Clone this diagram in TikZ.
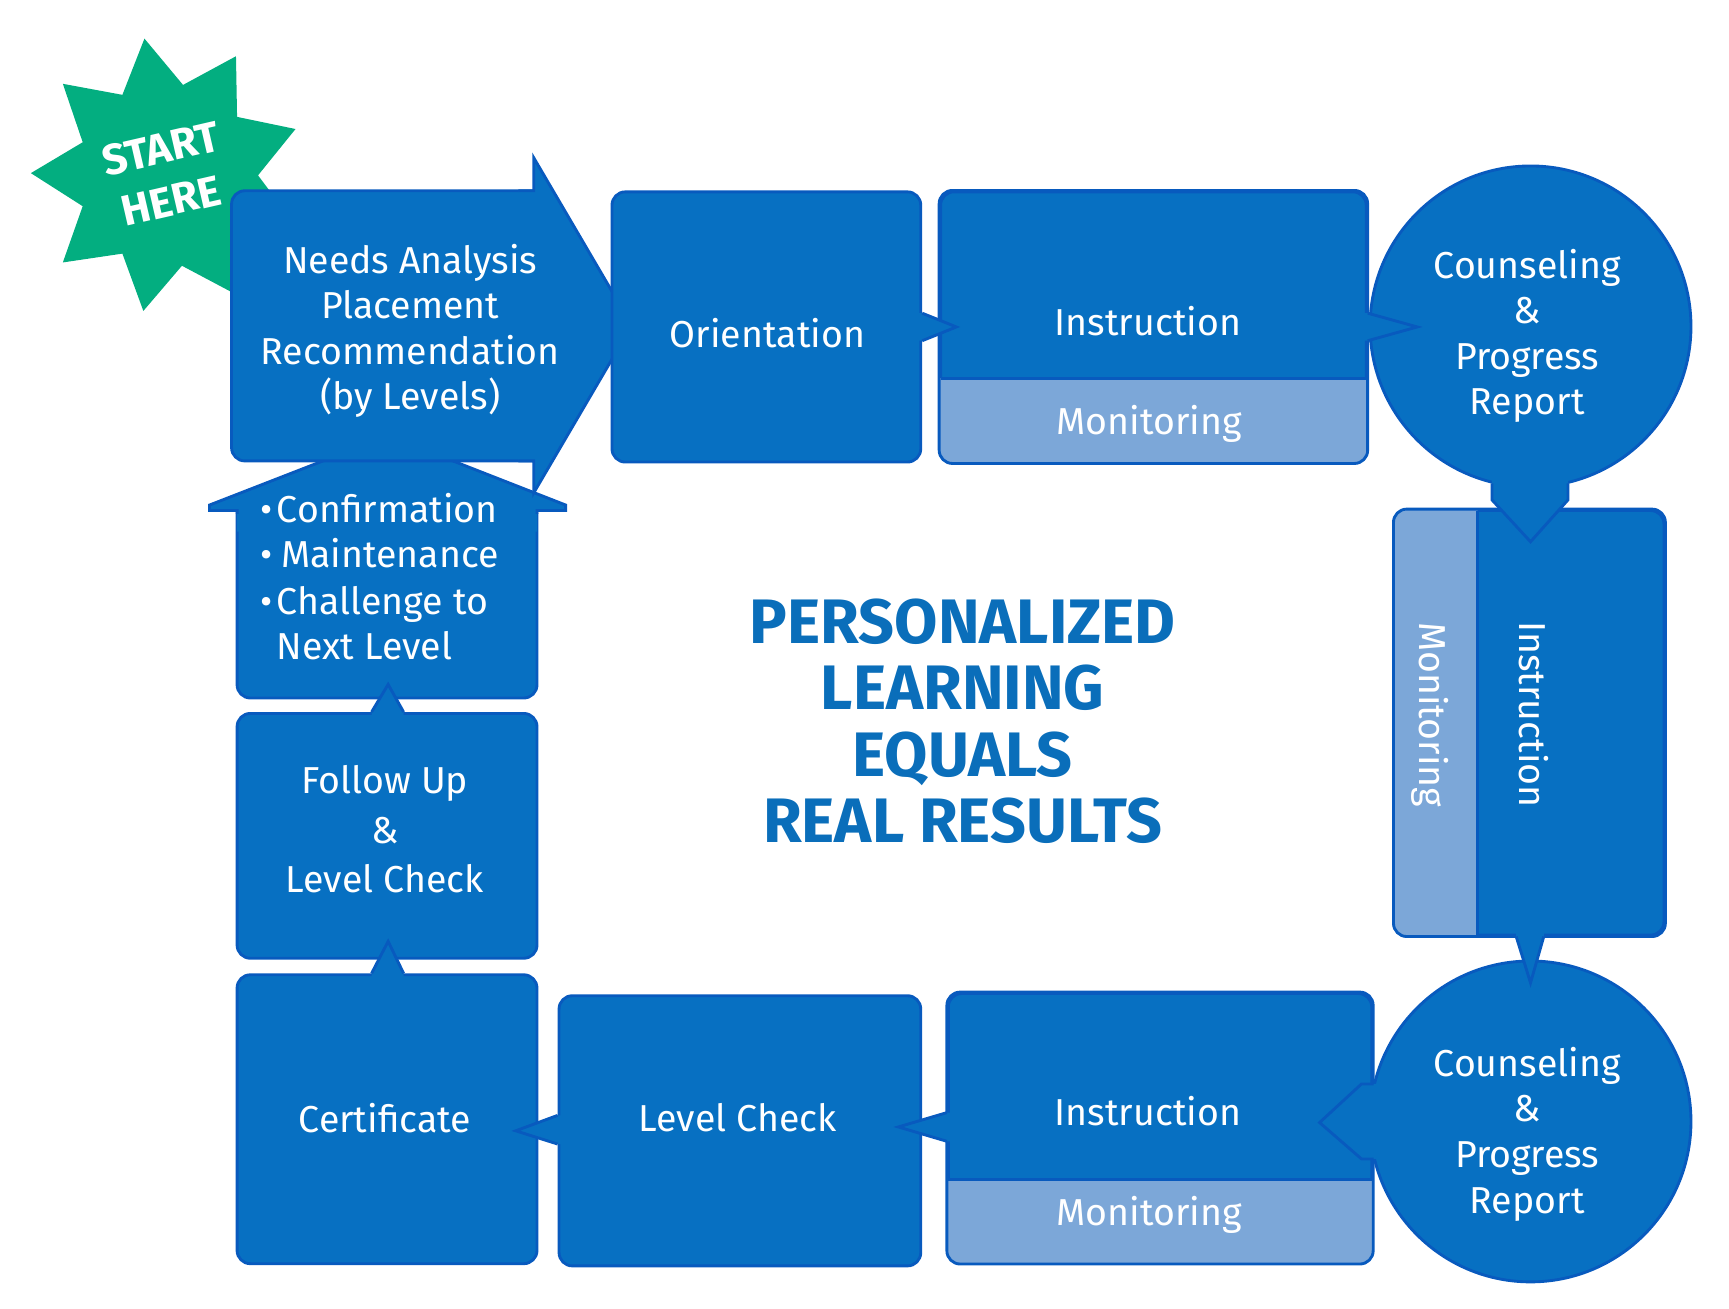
\documentclass[tikz,border=0pt]{standalone}
\usepackage{fontspec}
\setmainfont{Fira Sans}
\usetikzlibrary{calc}
\definecolor{bf}{RGB}{7,112,194}
\definecolor{bd}{RGB}{8,90,190}
\definecolor{lightb}{RGB}{124,167,216}
\definecolor{starg}{RGB}{3,174,128}
\definecolor{titleb}{RGB}{10,110,186}
\tikzset{
  box/.style={draw=bd, fill=bf, line width=2.6pt, rounded corners=12pt, inner sep=0pt},
  edge/.style={draw=bd, line width=2.6pt, line join=miter},
  lbl/.style={text=white, font=\fontsize{34}{41.3}\selectfont, align=center, inner sep=0pt},
  bul/.style={text=white, font=\fontsize{34}{41.3}\selectfont, inner sep=0pt, anchor=base west},
  startlbl/.style={text=white, font=\fontsize{39}{48}\selectfont\bfseries, inner sep=0pt, rotate=13},
}
\begin{document}
\begin{tikzpicture}[x=1pt,y=-1pt]
\useasboundingbox (0,0) rectangle (1568,1187);
% star
\fill[starg] (57,76) -- (111,86) -- (131,35) -- (166,77) -- (214,51) -- (215,106) -- (268,117) -- (234,159) -- (267,203) -- (214,212) -- (214,267) -- (165,241) -- (130,282) -- (111,230) -- (57,238) -- (75,187) -- (28,157) -- (75,129) -- cycle;
% confirmation (up arrow)
\node[box, minimum width=272pt, minimum height=178pt] (conf) at (351,544) {};
\fill[bf] (215,482) -- (215,463) -- (190,463) -- (190,458) -- (352,395) -- (513,458) -- (513,463) -- (487,463) -- (487,482) -- cycle;
\draw[edge] (215,466) -- (215,463) -- (190,463) -- (190,458) -- (352,395) -- (513,458) -- (513,463) -- (487,463) -- (487,466);
% needs analysis arrow
\node[box, minimum width=287pt, minimum height=245pt] (needs) at (353.5,295.5) {};
\fill[bf] (470,173) -- (484,173) -- (484,143) -- (573,295) -- (484,447) -- (484,418) -- (470,418) -- cycle;
\draw[edge] (470,173) -- (484,173) -- (484,143) -- (573,295) -- (484,447) -- (484,418) -- (470,418);
% top row
\node[box, minimum width=280pt, minimum height=245pt] (orient) at (695,296.5) {};
\node[box, minimum width=386pt, minimum height=245pt] (inst1) at (1046,296.5) {};
\begin{scope}
\clip (840,343) rectangle (1250,430);
\fill[lightb, rounded corners=12pt] (inst1.north west) rectangle (inst1.south east);
\end{scope}
\draw[edge] (853,343) -- (1239,343);
\draw[edge, rounded corners=12pt] (inst1.north west) rectangle (inst1.south east);
\node[box, circle, minimum size=291pt] (circ1) at (1388,296) {};
% right column
\node[box, minimum width=244pt, minimum height=385pt] (vinst) at (1387,655.5) {};
\begin{scope}
\clip (1255,450) rectangle (1340,860);
\fill[lightb, rounded corners=12pt] (vinst.north west) rectangle (vinst.south east);
\end{scope}
\draw[edge] (1340,463) -- (1340,848);
\draw[edge, rounded corners=12pt] (vinst.north west) rectangle (vinst.south east);
\node[box, circle, minimum size=291pt] (circ2) at (1388,1017) {};
% bottom row
\node[box, minimum width=384pt, minimum height=244pt] (inst2) at (1052,1023) {};
\begin{scope}
\clip (850,1070) rectangle (1255,1160);
\fill[lightb, rounded corners=12pt] (inst2.north west) rectangle (inst2.south east);
\end{scope}
\draw[edge] (860,1070) -- (1244,1070);
\draw[edge, rounded corners=12pt] (inst2.north west) rectangle (inst2.south east);
\node[box, minimum width=328pt, minimum height=245pt] (level) at (671,1025.5) {};
\node[box, minimum width=272pt, minimum height=262pt] (cert) at (351,1015) {};
\node[box, minimum width=272pt, minimum height=222pt] (follow) at (351,758) {};
% pointers
\fill[bf] ($(orient.east)+(-4,-12.5)$) -- ($(orient.east)+(0,-12.5)$) -- ($(orient.east)+(31,0)$) -- ($(orient.east)+(0,12.5)$) -- ($(orient.east)+(-4,12.5)$) -- cycle;
\draw[edge] ($(orient.east)+(0,-12.5)$) -- ($(orient.east)+(31,0)$) -- ($(orient.east)+(0,12.5)$);
\fill[bf] ($(inst1.east)+(-4,-12.5)$) -- ($(inst1.east)+(0,-12.5)$) -- ($(inst1.east)+(45,0)$) -- ($(inst1.east)+(0,12.5)$) -- ($(inst1.east)+(-4,12.5)$) -- cycle;
\draw[edge] ($(inst1.east)+(0,-12.5)$) -- ($(inst1.east)+(45,0)$) -- ($(inst1.east)+(0,12.5)$);
\fill[bf] ($(circ1.south)+(-35,-17)$) -- ($(circ1.south)+(-35,10.5)$) -- ($(circ1.south)+(0,48.5)$) -- ($(circ1.south)+(34,10.5)$) -- ($(circ1.south)+(34,-17)$) -- cycle;
\draw[edge] ($(circ1.south)+(-35,-4.5)$) -- ($(circ1.south)+(-35,10.5)$) -- ($(circ1.south)+(0,48.5)$) -- ($(circ1.south)+(34,10.5)$) -- ($(circ1.south)+(34,-4.5)$);
\fill[bf] ($(vinst.south)+(-12,-4)$) -- ($(vinst.south)+(-12,0)$) -- ($(vinst.south)+(1,42)$) -- ($(vinst.south)+(13,0)$) -- ($(vinst.south)+(13,-4)$) -- cycle;
\draw[edge] ($(vinst.south)+(-12,0)$) -- ($(vinst.south)+(1,42)$) -- ($(vinst.south)+(13,0)$);
\fill[bf] ($(circ2.west)+(14,-34)$) -- ($(circ2.west)+(-6.5,-34)$) -- ($(circ2.west)+(-44.5,1)$) -- ($(circ2.west)+(-6.5,34)$) -- ($(circ2.west)+(14,34)$) -- cycle;
\draw[edge] ($(circ2.west)+(4.5,-34)$) -- ($(circ2.west)+(-6.5,-34)$) -- ($(circ2.west)+(-44.5,1)$) -- ($(circ2.west)+(-6.5,34)$) -- ($(circ2.west)+(4.5,34)$);
\fill[bf] ($(inst2.west)+(4,-14)$) -- ($(inst2.west)+(0,-14)$) -- ($(inst2.west)+(-44,-1)$) -- ($(inst2.west)+(0,12)$) -- ($(inst2.west)+(4,12)$) -- cycle;
\draw[edge] ($(inst2.west)+(0,-14)$) -- ($(inst2.west)+(-44,-1)$) -- ($(inst2.west)+(0,12)$);
\fill[bf] ($(level.west)+(4,-14)$) -- ($(level.west)+(0,-14)$) -- ($(level.west)+(-38,0)$) -- ($(level.west)+(0,12)$) -- ($(level.west)+(4,12)$) -- cycle;
\draw[edge] ($(level.west)+(0,-14)$) -- ($(level.west)+(-38,0)$) -- ($(level.west)+(0,12)$);
\fill[bf] ($(cert.north)+(-14,4)$) -- ($(cert.north)+(-14,0)$) -- ($(cert.north)+(1,-29)$) -- ($(cert.north)+(15,0)$) -- ($(cert.north)+(15,4)$) -- cycle;
\draw[edge] ($(cert.north)+(-14,0)$) -- ($(cert.north)+(1,-29)$) -- ($(cert.north)+(15,0)$);
\fill[bf] ($(follow.north)+(-14,4)$) -- ($(follow.north)+(-14,0)$) -- ($(follow.north)+(1,-25)$) -- ($(follow.north)+(15,0)$) -- ($(follow.north)+(15,4)$) -- cycle;
\draw[edge] ($(follow.north)+(-14,0)$) -- ($(follow.north)+(1,-25)$) -- ($(follow.north)+(15,0)$);
% texts
\node[startlbl] (start) at (146,135) {START};
\node[startlbl] (here) at (155,182) {HERE};
\node[lbl] (needst) at (372,300) {Needs Analysis\\Placement\\Recommendation\\(by Levels)};
\node[lbl] (orientt) at (696,302) {Orientation};
\node[lbl] (inst1t) at (1041,291) {Instruction};
\node[lbl] (mon1t) at (1042,384) {Monitoring};
\node[lbl] (circ1t) at (1385,304.5) {Counseling\\\&\\Progress\\Report};
\node[lbl, rotate=-90] (vinstt) at (1391,648) {Instruction};
\node[lbl, rotate=-90] (vmont) at (1297,648) {Monitoring};
\node[lbl] (circ2t) at (1385,1028.5) {Counseling\\\&\\Progress\\Report};
\node[lbl] (inst2t) at (1041,1008) {Instruction};
\node[lbl] (mon2t) at (1042,1102) {Monitoring};
\node[lbl] (levelt) at (669,1014) {Level Check};
\node[lbl] (certt) at (349,1014) {Certificate};
\node[lbl, font=\fontsize{34}{45}\selectfont] (followt) at (349,752) {Follow Up\\\&\\Level Check};
\node[bul] (c1) at (233,474) {\makebox[18pt][c]{•}Confirmation};
\node[bul] (c2) at (233,515) {\makebox[18pt][c]{•}\hspace{4pt}Maintenance};
\node[bul] (c3) at (233,557) {\makebox[18pt][c]{•}Challenge to};
\node[bul] (c4) at (233,598) {\hspace{18pt}Next Level};
\node[text=titleb, font=\fontsize{57}{60}\selectfont\bfseries, align=center, inner sep=0pt] (title) at (873,654) {PERSONALIZED\\LEARNING\\EQUALS\\REAL RESULTS};
\end{tikzpicture}
\end{document}
